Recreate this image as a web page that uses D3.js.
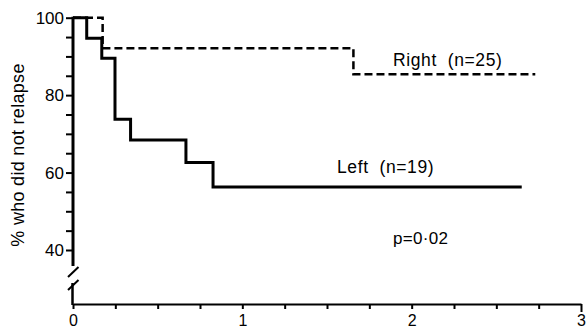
<!DOCTYPE html>
<html><head><meta charset="utf-8">
<script src="https://cdn.jsdelivr.net/npm/d3@7"></script>
<style>
html,body{margin:0;padding:0;background:#fff;}
text{font-family:"Liberation Sans",Arial,sans-serif;fill:#000;}
</style></head>
<body><svg id="c" width="586" height="330"></svg>
<script>
// ---- data ----
const leftTimes  = [0, 0.081, 0.17, 0.248, 0.34, 0.667, 0.827, 2.65];
const leftSurv   = [100, 94.7, 89.5, 73.8, 68.4, 62.6, 56.3, 56.3];
const rightTimes = [0, 0.175, 1.656, 2.73];
const rightSurv  = [100, 92.1, 85.4, 85.4];
const yTicks = [40, 45, 50, 55, 60, 65, 70, 75, 80, 85, 90, 95, 100];
const yLabels = [40, 60, 80, 100];
const xTicks = [0, 0.25, 0.5, 0.75, 1, 1.25, 1.5, 1.75, 2, 2.25, 2.5, 2.75, 3];
const xLabels = [0, 1, 2, 3];
const labelRight = "Right  (n=25)";
const labelLeft = "Left  (n=19)";
const pLabel = "p=0·02";
const yTitle = "% who did not relapse";

// ---- layout ----
const svg = d3.select("#c");
const x = d3.scaleLinear().domain([0, 3]).range([73, 581]);
const y = d3.scaleLinear().domain([40, 100]).range([250, 17.7]);
const xAxisY = 304;

// x axis
const gx = svg.append("g").attr("transform", `translate(0,${xAxisY})`)
  .call(d3.axisBottom(x).tickValues(xTicks).tickSize(5).tickSizeOuter(0)
    .tickFormat(d => xLabels.includes(d) ? d3.format("d")(d) : ""));
gx.select(".domain").attr("stroke", "#000").attr("stroke-width", 2);
gx.selectAll(".tick line").attr("stroke", "#000").attr("stroke-width", 2);
gx.selectAll(".tick").filter(d => d === 3).select("line").attr("y2", 8);
gx.selectAll(".tick text").attr("font-size", 16).attr("dy", 0).attr("y", 22)
  .attr("font-family", "Liberation Sans, Arial, sans-serif");

// y axis
const gy = svg.append("g").attr("transform", `translate(${x(0)},0)`)
  .call(d3.axisLeft(y).tickValues(yTicks).tickSize(7).tickSizeOuter(0)
    .tickFormat(d => yLabels.includes(d) ? d3.format("d")(d) : ""));
gy.select(".domain").remove();
gy.selectAll(".tick line").attr("stroke", "#000").attr("stroke-width", 2);
gy.selectAll(".tick text").attr("font-size", 17).attr("x", -9)
  .attr("font-family", "Liberation Sans, Arial, sans-serif");

// y axis line with break
const ax = x(0);
svg.append("line").attr("x1", ax).attr("x2", ax).attr("y1", y(100) - 1).attr("y2", 266)
  .attr("stroke", "#000").attr("stroke-width", 3);
svg.append("line").attr("x1", ax - 0.5).attr("x2", ax - 0.5).attr("y1", 283).attr("y2", xAxisY + 1)
  .attr("stroke", "#000").attr("stroke-width", 2.5);
svg.append("line").attr("x1", ax - 5).attr("y1", 277).attr("x2", ax + 5.5).attr("y2", 267)
  .attr("stroke", "#000").attr("stroke-width", 2);
svg.append("line").attr("x1", ax - 5).attr("y1", 290).attr("x2", ax + 5.5).attr("y2", 280)
  .attr("stroke", "#000").attr("stroke-width", 2);

// curves
const line = d3.line().x(d => x(d[0])).y(d => y(d[1])).curve(d3.curveStepAfter);
svg.append("path").datum(rightTimes.map((t, i) => [t, rightSurv[i]]))
  .attr("d", line).attr("fill", "none").attr("stroke", "#000")
  .attr("stroke-width", 2.5).attr("stroke-dasharray", "8,4");
svg.append("path").datum(leftTimes.map((t, i) => [t, leftSurv[i]]))
  .attr("d", line).attr("fill", "none").attr("stroke", "#000")
  .attr("stroke-width", 3);

// labels
svg.append("text").attr("x", 393).attr("y", 66).attr("font-size", 17.5)
  .attr("letter-spacing", 0.6).style("white-space", "pre").text(labelRight);
svg.append("text").attr("x", 337).attr("y", 173).attr("font-size", 17.5)
  .attr("letter-spacing", 0.6).style("white-space", "pre").text(labelLeft);
svg.append("text").attr("x", 393).attr("y", 244).attr("font-size", 17)
  .attr("letter-spacing", 0.3).text(pLabel);
svg.append("text").attr("transform", "translate(24,155) rotate(-90)")
  .attr("text-anchor", "middle").attr("font-size", 18).attr("letter-spacing", 0.3)
  .text(yTitle);
</script></body></html>
